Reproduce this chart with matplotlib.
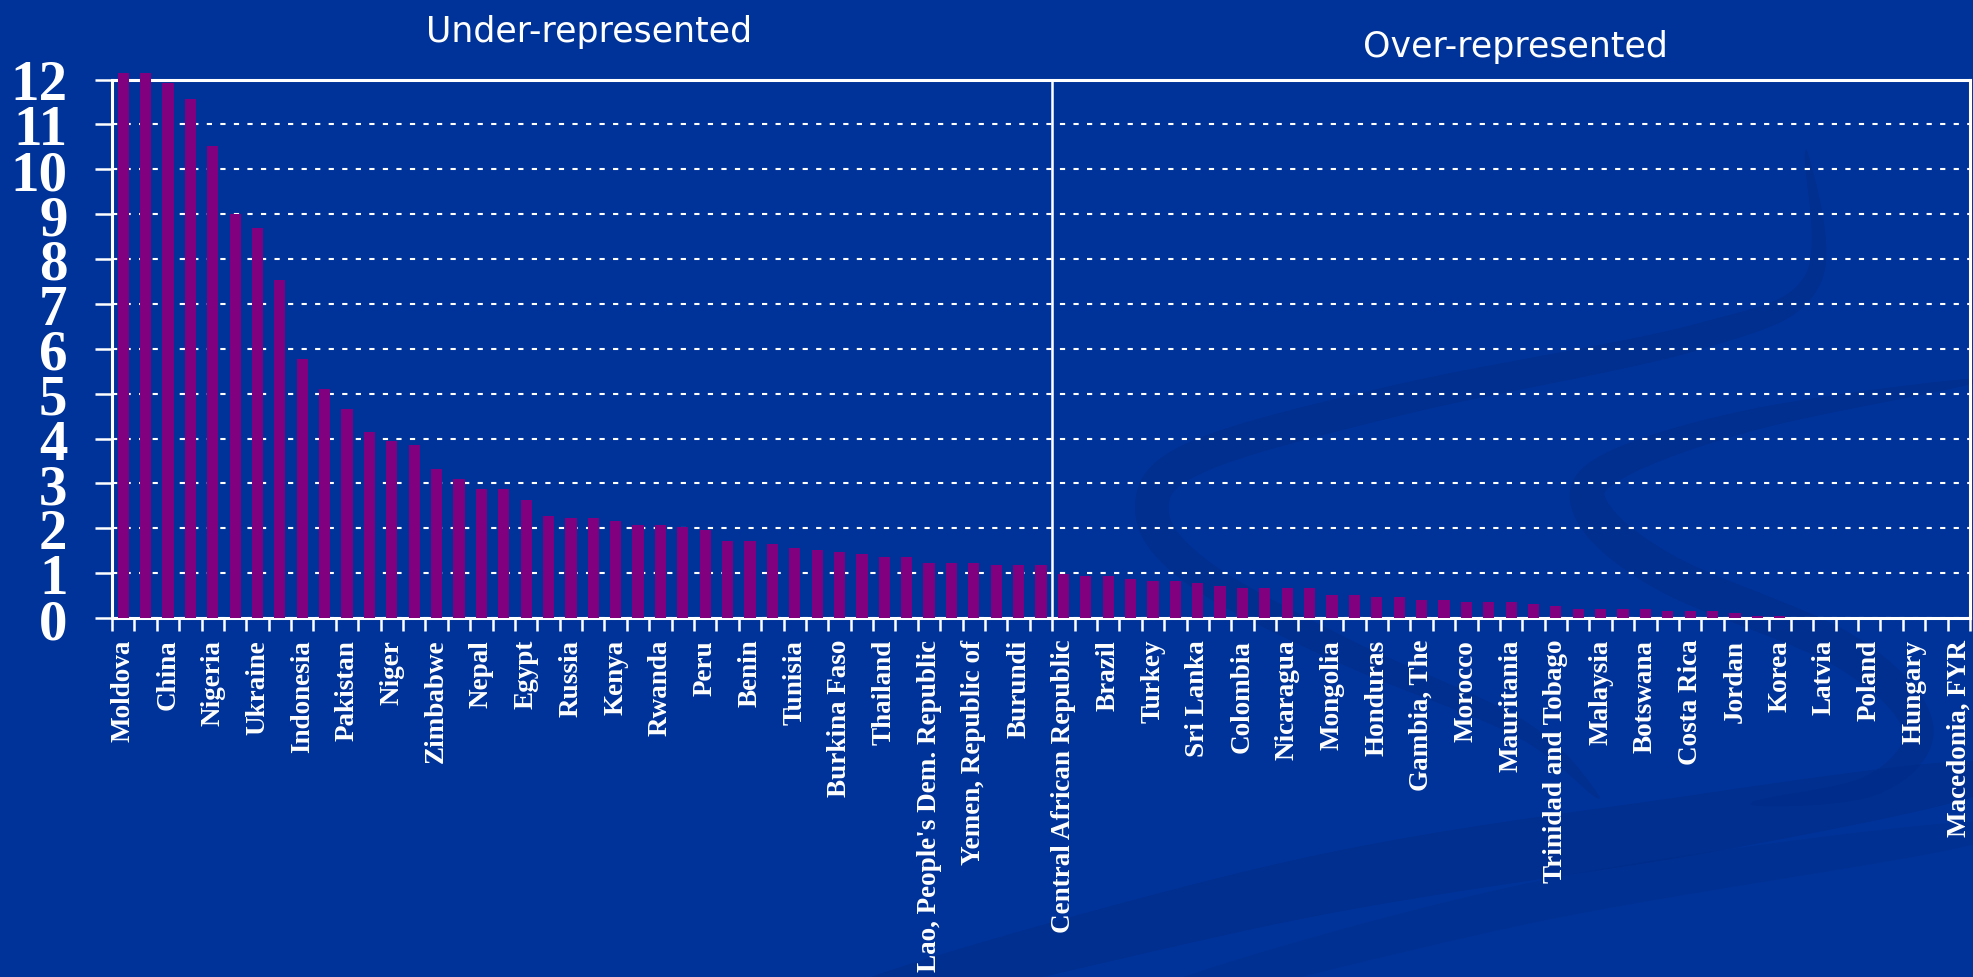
import numpy as np
import matplotlib
matplotlib.use("Agg")
from matplotlib import pyplot as plt
from matplotlib.patches import Polygon

# ratio per country, sorted; every second country carries a label on the axis
values = [12.15, 12.15, 11.92, 11.56, 10.52, 9.00, 8.70, 7.53, 5.77, 5.11,
          4.66, 4.15, 3.94, 3.85, 3.33, 3.09, 2.88, 2.88, 2.63, 2.28,
          2.22, 2.22, 2.17, 2.07, 2.07, 2.02, 1.97, 1.72, 1.72, 1.66,
          1.57, 1.52, 1.47, 1.42, 1.37, 1.37, 1.22, 1.22, 1.22, 1.17,
          1.17, 1.17, 0.97, 0.93, 0.93, 0.87, 0.82, 0.82, 0.77, 0.71,
          0.66, 0.66, 0.66, 0.66, 0.52, 0.52, 0.47, 0.47, 0.41, 0.41,
          0.36, 0.36, 0.36, 0.31, 0.26, 0.21, 0.21, 0.21, 0.21, 0.16,
          0.16, 0.16, 0.11, 0.05, 0.05, 0.0, 0.0, 0.0, 0.0, 0.0,
          0.0, 0.0, 0.0]
labels = ["Moldova", "China", "Nigeria", "Ukraine", "Indonesia", "Pakistan",
          "Niger", "Zimbabwe", "Nepal", "Egypt", "Russia", "Kenya", "Rwanda",
          "Peru", "Benin", "Tunisia", "Burkina Faso", "Thailand",
          "Lao, People's Dem. Republic", "Yemen, Republic of", "Burundi",
          "Central African Republic", "Brazil", "Turkey", "Sri Lanka",
          "Colombia", "Nicaragua", "Mongolia", "Honduras", "Gambia, The",
          "Morocco", "Mauritania", "Trinidad and Tobago", "Malaysia",
          "Botswana", "Costa Rica", "Jordan", "Korea", "Latvia", "Poland",
          "Hungary", "Macedonia, FYR"]
n_under = 42          # countries left of the divider
y_ticks = list(range(0, 13))

bg = "#003399"
W, H = 1973, 978
fig = plt.figure(figsize=(W / 100, H / 100), dpi=100, facecolor=bg)


# tapered brush strokes of the slide template (figure pixels, y down)
def catmull(pts, n=30):
    p = np.array(pts, float)
    p = np.vstack([p[0], p, p[-1]])
    out = []
    for i in range(1, len(p) - 2):
        t = np.linspace(0, 1, n, endpoint=False)[:, None]
        p0, p1, p2, p3 = p[i - 1], p[i], p[i + 1], p[i + 2]
        out.append(0.5 * (2 * p1 + (-p0 + p2) * t
                          + (2 * p0 - 5 * p1 + 4 * p2 - p3) * t ** 2
                          + (-p0 + 3 * p1 - 3 * p2 + p3) * t ** 3))
    out.append(p[-2][None, :])
    return np.vstack(out)


def stroke(pts, width, taper=0.6, color="#002c88", alpha=0.55):
    c = catmull(pts)
    d = np.gradient(c, axis=0)
    nrm = np.column_stack([-d[:, 1], d[:, 0]])
    nrm /= np.linalg.norm(nrm, axis=1)[:, None]
    s = np.linspace(0, 1, len(c))
    w = width / 2 * np.sin(np.pi * s) ** taper
    poly = np.vstack([c + nrm * w[:, None], (c - nrm * w[:, None])[::-1]])
    poly = np.column_stack([poly[:, 0] / W, 1 - poly[:, 1] / H])
    fig.add_artist(Polygon(poly, closed=True, transform=fig.transFigure,
                           facecolor=color, edgecolor="none", alpha=alpha,
                           zorder=0))


stroke([(1806, 150), (1812, 282), (1697, 338), (1403, 400), (1197, 458),
        (1152, 512), (1200, 575), (1344, 652), (1521, 730), (1600, 800)], 34)
stroke([(1985, 380), (1756, 420), (1612, 468), (1592, 512), (1668, 575),
        (1845, 652), (1918, 728), (1872, 786), (1750, 805)], 38)
stroke([(820, 1010), (1300, 890), (1700, 825), (2000, 775)], 62, taper=0.3)
stroke([(1150, 1000), (1550, 900), (2000, 830)], 40, taper=0.3, alpha=0.4)

x = np.arange(len(values))
ax = fig.add_axes([112 / W, 1 - 619 / H, (1970 - 112) / W, (619 - 80.5) / H])
ax.set_facecolor("none")
ax.bar(x, values, width=0.5, color="#800080", clip_on=False, zorder=3)
ax.axvline(n_under - 0.5, color="white", lw=1.8, zorder=4)

ax.set_xlim(-0.5, len(values) - 0.5)
ax.set_ylim(0, 12)
ax.set_yticks(y_ticks)
ax.yaxis.grid(True, color="white", linestyle=(0, (2.5, 4)), linewidth=1.5, zorder=1)
ax.set_axisbelow(True)

for s in ax.spines.values():
    s.set_color("white")
    s.set_linewidth(2.2)

ax.set_xticks(x[::2])
ax.set_xticklabels(labels, rotation=90, color="white", fontsize=19.5,
                   fontfamily="Liberation Serif", fontweight="bold", va="top")
ax.set_xticks(np.arange(-0.5, len(values), 1), minor=True)
ax.tick_params(axis="x", which="major", length=0, pad=15)
ax.tick_params(axis="x", which="minor", length=9, width=1.8, color="white",
               direction="out")
ax.tick_params(axis="y", length=12, width=1.8, color="white", direction="out",
               pad=20)
for t in ax.get_yticklabels():
    t.set_color("white")
    t.set_fontsize(41)
    t.set_fontfamily("Liberation Serif")
    t.set_fontweight("bold")

fig.text(589 / W, 1 - 42 / H, "Under-represented", ha="center", va="baseline",
         color="white", fontsize=25, fontfamily="DejaVu Sans")
fig.text(1515 / W, 1 - 57 / H, "Over-represented", ha="center", va="baseline",
         color="white", fontsize=25, fontfamily="DejaVu Sans")

fig.savefig("out.png", dpi=100, facecolor=bg)
